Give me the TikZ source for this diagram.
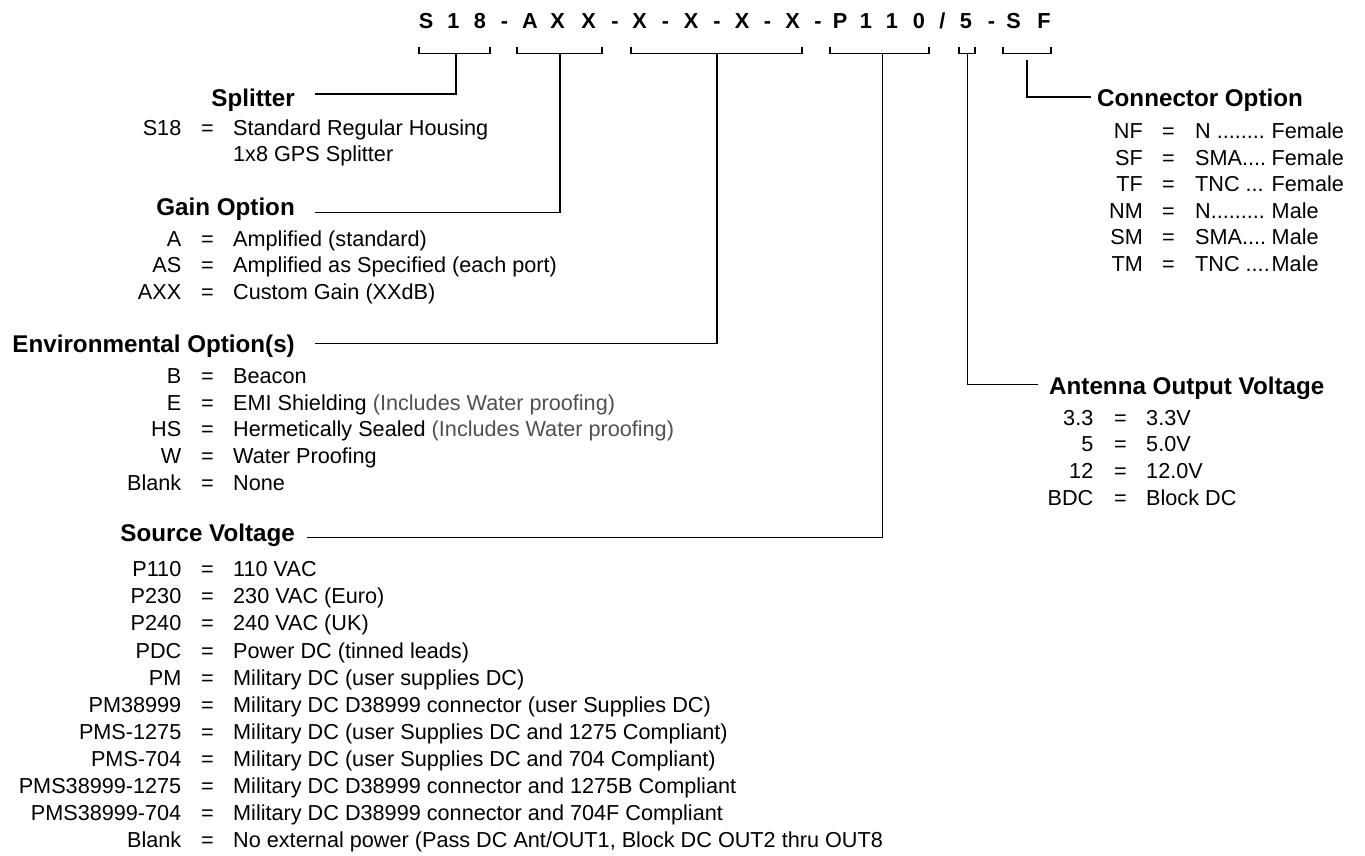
\documentclass[tikz,border=0pt]{standalone}
\usepackage{fontspec}
\setmainfont{Liberation Sans}
\usetikzlibrary{calc}
\definecolor{incl}{RGB}{80,80,80}
\newcommand\OptRow[7]{%
  \node[txt,anchor=base east] (#1c) at (#2,#5) {#6};
  \node[txt,anchor=base] (#1e) at (#3,#5) {=};
  \node[txt,anchor=base west] (#1v) at (#4,#5) {#7};}
\newcommand\SlashChar{/}
\newcommand\ConnVal[2]{\makebox[76.5pt][l]{#1}#2}
\begin{document}
\begin{tikzpicture}[x=1pt,y=-1pt,
  txt/.style={inner sep=0pt,font=\fontsize{21.65}{26}\selectfont},
  head/.style={inner sep=0pt,font=\fontsize{24.2}{29}\selectfont\bfseries},
  codechar/.style={inner sep=0pt,anchor=base,font=\fontsize{21.7}{26}\selectfont\bfseries},
  lnk/.style={line width=1.1pt,black},
  brk/.style={line width=1.1pt,black}]
\useasboundingbox (0,0) rectangle (1365,855);

% part number header
\foreach \x/\c [count=\i] in {426/S,453.5/1,480/8,504.5/-,530/A,557.5/X,588.5/X,615/-,639.5/X,665.5/-,691/X,717/-,742/X,767.5/-,792.5/X,818/-,840/P,866/1,892/1,919/0,942.5/\SlashChar,966/5,991.5/-,1013.5/S,1044/F}
  \node[codechar] (h\i) at (\x,28.3) {\c};

% brackets
\foreach \a/\b in {419/490,517/602,631/802,830/929,959/975,1003/1051}
  \draw[brk] (\a,47) -- (\a,53.3) -- (\b,53.3) -- (\b,47);
\coordinate (bS) at (456,53.3);
\coordinate (bG) at (560,53.3);
\coordinate (bE) at (717,53.3);
\coordinate (bP) at (882.5,53.3);
\coordinate (bV) at (967.5,53.3);
\coordinate (bC) at (1027,60);

% headings
\node[head,anchor=base east] (hdS) at (295,106) {Splitter};
\node[head,anchor=base east] (hdG) at (295,215) {Gain Option};
\node[head,anchor=base east] (hdE) at (295,352) {Environmental Option(s)};
\node[head,anchor=base east] (hdP) at (295,541.7) {Source Voltage};
\node[head,anchor=base west] (hdC) at (1097,106.7) {Connector Option};
\node[head,anchor=base west] (hdV) at (1049,394) {Antenna Output Voltage};

% connectors
\draw[lnk] (bS) |- ($(hdS.base east)+(20,-12)$);
\draw[lnk] (bG) |- ($(hdG.base east)+(20,-2.5)$);
\draw[lnk] (bE) |- ($(hdE.base east)+(20,-8.7)$);
\draw[lnk] (bP) |- ($(hdP.base east)+(12,-4.2)$);
\draw[lnk] (bC) |- ($(hdC.base west)+(-6,-9.7)$);
\draw[lnk] (bV) |- ($(hdV.base west)+(-10.7,-9.7)$);

% Splitter
\OptRow{s1}{181.5}{207.5}{233}{135}{S18}{Standard Regular Housing}
\node[txt,anchor=base west] (s2v) at (233,161.7) {1x8 GPS Splitter};

% Gain
\OptRow{g1}{181.5}{207.5}{233}{246}{A}{Amplified (standard)}
\OptRow{g2}{181.5}{207.5}{233}{272.7}{AS}{Amplified as Specified (each port)}
\OptRow{g3}{181.5}{207.5}{233}{299.5}{AXX}{Custom Gain (XXdB)}

% Environmental
\OptRow{e1}{181.5}{207.5}{233}{383.3}{B}{Beacon}
\OptRow{e2}{181.5}{207.5}{233}{410}{E}{EMI Shielding \textcolor{incl}{(Includes Water proofing)}}
\OptRow{e3}{181.5}{207.5}{233}{436.7}{HS}{Hermetically Sealed \textcolor{incl}{(Includes Water proofing)}}
\OptRow{e4}{181.5}{207.5}{233}{463.3}{W}{Water Proofing}
\OptRow{e5}{181.5}{207.5}{233}{490}{Blank}{None}

% Source voltage
\OptRow{p1}{181.5}{207.5}{233}{576.7}{P110}{110 VAC}
\OptRow{p2}{181.5}{207.5}{233}{603.8}{P230}{230 VAC (Euro)}
\OptRow{p3}{181.5}{207.5}{233}{630.9}{P240}{240 VAC (UK)}
\OptRow{p4}{181.5}{207.5}{233}{658}{PDC}{Power DC (tinned leads)}
\OptRow{p5}{181.5}{207.5}{233}{685.1}{PM}{Military DC (user supplies DC)}
\OptRow{p6}{181.5}{207.5}{233}{712.2}{PM38999}{Military DC D38999 connector (user Supplies DC)}
\OptRow{p7}{181.5}{207.5}{233}{739.3}{PMS-1275}{Military DC (user Supplies DC and 1275 Compliant)}
\OptRow{p8}{181.5}{207.5}{233}{766.4}{PMS-704}{Military DC (user Supplies DC and 704 Compliant)}
\OptRow{p9}{181.5}{207.5}{233}{793.5}{PMS38999-1275}{Military DC D38999 connector and 1275B Compliant}
\OptRow{p10}{181.5}{207.5}{233}{820.6}{PMS38999-704}{Military DC D38999 connector and 704F Compliant}
\OptRow{p11}{181.5}{207.5}{233}{847.7}{Blank}{No external power (Pass DC Ant/OUT1, Block DC OUT2 thru OUT8}

% Connector option
\OptRow{c1}{1143}{1168.5}{1195}{138.3}{NF}{\ConnVal{N ........}{Female}}
\OptRow{c2}{1143}{1168.5}{1195}{165}{SF}{\ConnVal{SMA....}{Female}}
\OptRow{c3}{1143}{1168.5}{1195}{191.6}{TF}{\ConnVal{TNC ...}{Female}}
\OptRow{c4}{1143}{1168.5}{1195}{218.3}{NM}{\ConnVal{N.........}{Male}}
\OptRow{c5}{1143}{1168.5}{1195}{244.9}{SM}{\ConnVal{SMA....}{Male}}
\OptRow{c6}{1143}{1168.5}{1195}{271.5}{TM}{\ConnVal{TNC ....}{Male}}

% Antenna output voltage
\OptRow{v1}{1093.5}{1120.5}{1146}{425}{3.3}{3.3V}
\OptRow{v2}{1093.5}{1120.5}{1146}{451.7}{5}{5.0V}
\OptRow{v3}{1093.5}{1120.5}{1146}{478.3}{12}{12.0V}
\OptRow{v4}{1093.5}{1120.5}{1146}{505}{BDC}{Block DC}
\end{tikzpicture}
\end{document}
